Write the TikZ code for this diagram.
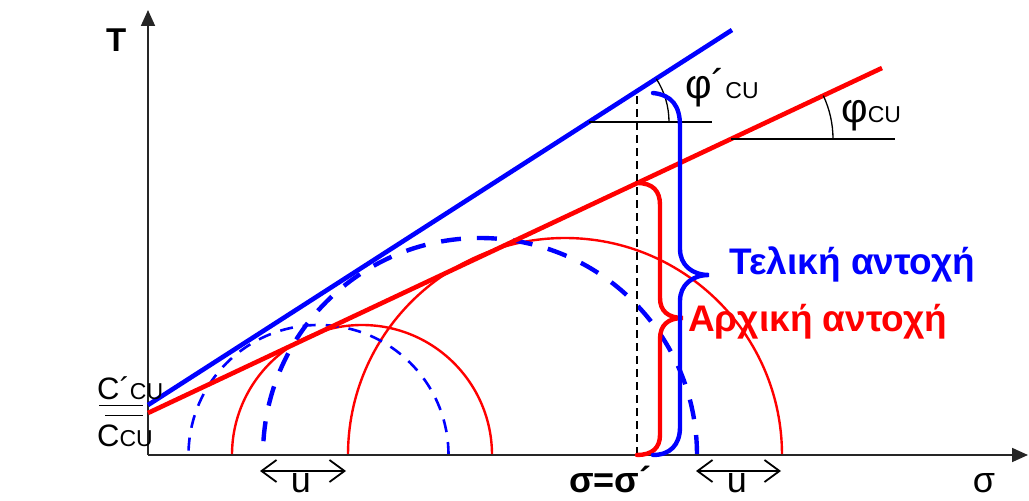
\documentclass[tikz,border=0pt]{standalone}
\usepackage{fontspec}
\setmainfont{Liberation Sans}
\usetikzlibrary{arrows.meta}
\definecolor{envred}{RGB}{255,0,0}
\definecolor{envblue}{RGB}{0,0,255}
\newcommand{\bigsz}[1]{{\fontsize{37}{40}\selectfont #1}}
\newcommand{\phisz}[1]{{\fontsize{41}{44}\selectfont #1}}
\newcommand{\axsz}[1]{{\fontsize{36}{38}\selectfont #1}}
\newcommand{\subsz}[1]{{\fontsize{23}{25}\selectfont #1}}
\tikzset{
  axisline/.style={line width=1.8pt, black!85, -{Triangle[length=16pt,width=14pt]}},
  envelope/.style={line width=4.6pt},
  mohr/.style={line width=2.4pt, envred},
  thickdash/.style={line width=4.4pt, envblue, dash pattern=on 20pt off 16pt},
  thindash/.style={line width=2.6pt, envblue, dash pattern=on 13pt off 10pt},
  thinline/.style={line width=1.3pt, black},
  brace/.style={line width=4.4pt, line cap=round},
  ushift/.style={line width=1.8pt, {Straight Barb[length=15pt,width=22pt]}-{Straight Barb[length=15pt,width=22pt]}},
  lbl/.style={inner sep=0pt, anchor=base west}
}
\begin{document}
\begin{tikzpicture}[x=1pt, y=1pt]
  \useasboundingbox (0,0) rectangle (1029,501);
  \coordinate (O) at (148,46);
  \coordinate (Ttop) at (148,491);
  \coordinate (Send) at (1028,46);
  % envelopes
  \coordinate (B0) at (148,96);
  \coordinate (B1) at (732,471);
  \coordinate (R0) at (148,88);
  \coordinate (R1) at (882,433);
  % circle centres
  \coordinate (c1) at (362,46);
  \coordinate (c2) at (565,46);
  \coordinate (d1) at (318.5,46);
  \coordinate (d2) at (480,46);
  % Mohr circles
  \draw[mohr] (c1) ++(130,0) arc[start angle=0, end angle=180, radius=130pt];
  \draw[mohr] (c2) ++(217,0) arc[start angle=0, end angle=180, radius=217pt];
  \draw[thindash] (d1) ++(130,0) arc[start angle=0, end angle=180, radius=130pt];
  \draw[thickdash] (d2) ++(217,0) arc[start angle=0, end angle=180, radius=217pt];
  % axes
  \draw[axisline] (O) -- (Ttop);
  \draw[axisline] (O) -- (Send);
  \node[lbl, font=\bfseries\fontsize{33}{36}\selectfont] (tau) at (106,449) {T};
  \node[lbl, anchor=base] (sig) at (984,9) {\axsz{σ}};
  % envelope lines
  \draw[envelope, envblue] (B0) -- (B1);
  \draw[envelope, envred] (R0) -- (R1);
  % cohesion marks
  \coordinate (cb) at (143,95.5);
  \coordinate (cr) at (143,85.5);
  \draw[thinline] (cb) -- (99,95.5);
  \draw[thinline] (cr) -- (105,85.5);
  \node[lbl] (cbl) at (97,101) {{\fontsize{31}{33}\selectfont C´}\subsz{CU}};
  \node[lbl] (crl) at (97,54) {{\fontsize{31}{33}\selectfont C}\subsz{CU}};
  % friction angles
  \coordinate (Pb) at (589,379);
  \coordinate (Pr) at (731,362);
  \draw[thinline] (Pb) -- (712,379);
  \draw[thinline] (Pr) -- (895,362);
  \draw[thinline] (Pb) ++(80,0) arc[start angle=0, end angle=32.7, radius=80pt];
  \draw[thinline] (Pr) ++(102,0) arc[start angle=0, end angle=25.2, radius=102pt];
  \node[lbl] (phib) at (685,402) {\phisz{φ´}\subsz{CU}};
  \node[lbl] (phir) at (841,378) {\phisz{φ}\subsz{CU}};
  % sigma = sigma'
  \coordinate (Dtop) at (637,410);
  \coordinate (Dbot) at (637,46);
  \draw[thinline, line width=1.2pt, dash pattern=on 8pt off 5pt] (Dbot) -- (Dtop);
  \node[lbl, font=\bfseries] (eq) at (569,9) {\axsz{σ=σ´}};
  % braces
  \draw[brace, envred] (637,318) .. controls (653,318) and (660,310) .. (660,296)
    -- (660,203) .. controls (660,190) and (668,183) .. (683,183)
    .. controls (668,183) and (660,176) .. (660,162)
    -- (660,66) .. controls (660,53) and (652,46) .. (637,46);
  \draw[brace, envblue] (653,408) .. controls (672,406) and (680,395) .. (680,375)
    -- (680,252) .. controls (680,236) and (692,226) .. (709,226)
    .. controls (692,226) and (680,216) .. (680,200)
    -- (680,74) .. controls (680,56) and (670,46) .. (653,46);
  \node[lbl, envblue, font=\bfseries] (fin) at (729,226) {\bigsz{Τελική αντοχή}};
  \node[lbl, envred, font=\bfseries] (ini) at (688,169) {\bigsz{Αρχική αντοχή}};
  % pore pressure shifts
  \coordinate (u1a) at (260,30);
  \coordinate (u1b) at (346,30);
  \coordinate (u2a) at (696,30);
  \coordinate (u2b) at (781,30);
  \draw[ushift] (u1a) -- (u1b);
  \draw[ushift] (u2a) -- (u2b);
  \node[lbl, anchor=base] (u1) at (301,9) {\axsz{u}};
  \node[lbl, anchor=base] (u2) at (737,9) {\axsz{u}};
\end{tikzpicture}
\end{document}
